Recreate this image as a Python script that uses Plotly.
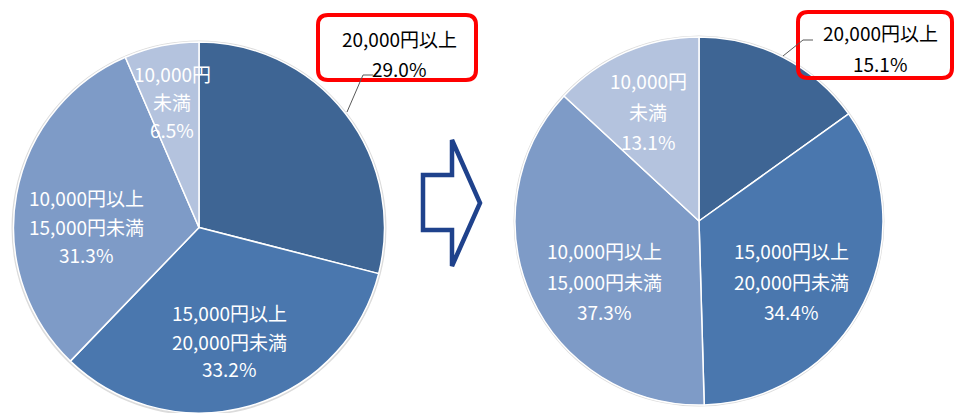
import plotly.graph_objects as go

W, H = 955, 413

categories = ["20,000円以上", "15,000円以上20,000円未満", "10,000円以上15,000円未満", "10,000円未満"]
before_values = [29.0, 33.2, 31.3, 6.5]
after_values = [15.1, 34.4, 37.3, 13.1]
colors = ["#3e6594", "#4a77ae", "#7e9bc7", "#b4c3de"]

FONT = "Noto Sans CJK JP"

def px(x):
    return x / W

def py(y):
    return 1 - y / H

# pie geometry (pixels)
L_CX, L_CY, L_R = 199, 228, 186
R_CX, R_CY, R_R = 699, 221, 184

def dom(cx, cy, r):
    x0, x1 = px(cx - r), px(cx + r)
    y0, y1 = py(cy + r), py(cy - r)
    return dict(x=[max(0, x0), min(1, x1)], y=[max(0, y0), min(1, y1)])

fig = go.Figure()
for vals, (cx, cy, r) in [(before_values, (L_CX, L_CY, L_R)), (after_values, (R_CX, R_CY, R_R))]:
    fig.add_trace(go.Pie(
        labels=categories, values=vals, sort=False, direction="clockwise", rotation=0,
        marker=dict(colors=colors, line=dict(color="white", width=1.5)),
        textinfo="none", hoverinfo="label+percent", showlegend=False,
        domain=dom(cx, cy, r),
    ))

shapes = []
# subtle gray outer ring
for cx, cy, r in [(L_CX, L_CY, L_R), (R_CX, R_CY, R_R)]:
    shapes.append(dict(type="circle", xref="paper", yref="paper", layer="below",
                       x0=px(cx - r - 1.5), x1=px(cx + r + 1.5), y0=py(cy + r + 1.5), y1=py(cy - r - 1.5),
                       line=dict(width=0), fillcolor="#dcdcdc"))

def rrect(x0, y0, x1, y1, rad):
    pts = [
        f"M {px(x0 + rad)},{py(y0)}",
        f"L {px(x1 - rad)},{py(y0)}",
        f"Q {px(x1)},{py(y0)} {px(x1)},{py(y0 + rad)}",
        f"L {px(x1)},{py(y1 - rad)}",
        f"Q {px(x1)},{py(y1)} {px(x1 - rad)},{py(y1)}",
        f"L {px(x0 + rad)},{py(y1)}",
        f"Q {px(x0)},{py(y1)} {px(x0)},{py(y1 - rad)}",
        f"L {px(x0)},{py(y0 + rad)}",
        f"Q {px(x0)},{py(y0)} {px(x0 + rad)},{py(y0)}",
        "Z",
    ]
    return " ".join(pts)

# red callout boxes
shapes.append(dict(type="path", xref="paper", yref="paper", path=rrect(318, 15, 476, 80, 10),
                   line=dict(color="#ff0000", width=4), fillcolor="rgba(0,0,0,0)"))
shapes.append(dict(type="path", xref="paper", yref="paper", path=rrect(798, 12, 952, 78, 10),
                   line=dict(color="#ff0000", width=4), fillcolor="rgba(0,0,0,0)"))

# leader lines
def polyline(pts):
    s = f"M {px(pts[0][0])},{py(pts[0][1])}"
    for x, y in pts[1:]:
        s += f" L {px(x)},{py(y)}"
    return s

shapes.append(dict(type="path", xref="paper", yref="paper", path=polyline([(347, 112), (363, 75), (373, 75)]),
                   line=dict(color="#595959", width=1)))
shapes.append(dict(type="path", xref="paper", yref="paper", path=polyline([(783, 56), (803, 40), (813, 40)]),
                   line=dict(color="#595959", width=1)))

# outline arrow
arrow = [(423, 175), (452, 175), (452, 140), (480, 203), (452, 266), (452, 230), (423, 230)]
shapes.append(dict(type="path", xref="paper", yref="paper", path=polyline(arrow) + " Z",
                   line=dict(color="#1f428c", width=4.5), fillcolor="white"))

annotations = []

def add_lines(lines, cx, ys, color, size=19):
    for t, y in zip(lines, ys):
        annotations.append(dict(text=t, x=px(cx), y=py(y), xref="paper", yref="paper",
                                showarrow=False, xanchor="center", yanchor="middle",
                                font=dict(family=FONT, size=size, color=color)))

# left pie labels
add_lines(["20,000円以上", f"{before_values[0]:.1f}%"], 399, [39, 69], "black")
add_lines(["15,000円以上", "20,000円未満", f"{before_values[1]:.1f}%"], 229, [312, 341, 368], "white")
add_lines(["10,000円以上", "15,000円未満", f"{before_values[2]:.1f}%"], 86, [197, 226, 254], "white")
add_lines(["10,000円", "未満", f"{before_values[3]:.1f}%"], 172, [73, 101, 130], "white")

# right pie labels
add_lines(["20,000円以上", f"{after_values[0]:.1f}%"], 880, [33, 63], "black")
add_lines(["15,000円以上", "20,000円未満", f"{after_values[1]:.1f}%"], 791, [250, 281, 311], "white")
add_lines(["10,000円以上", "15,000円未満", f"{after_values[2]:.1f}%"], 604, [250, 281, 311], "white")
add_lines(["10,000円", "未満", f"{after_values[3]:.1f}%"], 648, [80, 112, 141], "white")

fig.update_layout(
    width=W, height=H, margin=dict(l=0, r=0, t=0, b=0),
    paper_bgcolor="white", plot_bgcolor="white",
    shapes=shapes, annotations=annotations,
    font=dict(family=FONT),
)

fig.write_html("out.html", config={"displayModeBar": False},
               post_script="document.body.style.margin='0';document.body.style.overflow='hidden';")
